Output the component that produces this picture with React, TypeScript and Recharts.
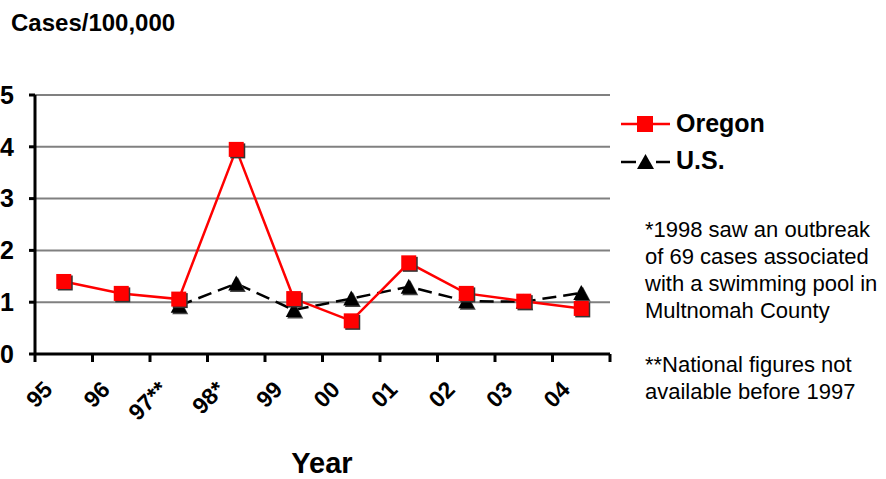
import React from "react";
import { CartesianGrid, Line, LineChart, XAxis, YAxis } from "recharts";

const years = ["95", "96", "97**", "98*", "99", "00", "01", "02", "03", "04"];
const oregon = [1.4, 1.17, 1.06, 3.95, 1.07, 0.64, 1.76, 1.17, 1.02, 0.88];
const us = [null, null, 0.93, 1.36, 0.85, 1.07, 1.3, 1.02, 1.01, 1.18];
const yTicks = [0, 1, 2, 3, 4, 5];

const data = years.map((year, i) => ({ year, oregon: oregon[i], us: us[i] }));

const W = 886;
const H = 479;
const PLOT_LEFT = 35;
const PLOT_RIGHT = 610;
const BAND = (PLOT_RIGHT - PLOT_LEFT) / years.length;
const FONT = "Arial, 'Liberation Sans', sans-serif";

function SquareDot(props: any) {
  const { cx, cy, value } = props;
  if (value == null || cx == null || cy == null) return null;
  return (
    <g>
      <rect x={cx - 6} y={cy - 6} width={15} height={15} fill="#333" />
      <rect x={cx - 7.5} y={cy - 7.5} width={15} height={15} fill="#ff0000" />
    </g>
  );
}

function TriangleDot(props: any) {
  const { cx, cy, value } = props;
  if (value == null || cx == null || cy == null) return null;
  const tri = (dx: number, dy: number) =>
    `${cx + dx},${cy - 8 + dy} ${cx + 8 + dx},${cy + 7 + dy} ${cx - 8 + dx},${cy + 7 + dy}`;
  return (
    <g>
      <polygon points={tri(1.5, 1.5)} fill="#444" />
      <polygon points={tri(0, 0)} fill="#000" />
    </g>
  );
}

function YearTick(props: any) {
  const { x, y, payload, index } = props;
  const left = x - BAND / 2;
  const ax = x - 10;
  const ay = y + 29;
  return (
    <g>
      <line x1={left} y1={y - 8} x2={left} y2={y} stroke="#000" strokeWidth={3} />
      {index === years.length - 1 && (
        <line x1={x + BAND / 2} y1={y - 8} x2={x + BAND / 2} y2={y} stroke="#000" strokeWidth={3} />
      )}
      <text
        x={ax}
        y={ay}
        transform={`rotate(-45, ${ax}, ${ay})`}
        textAnchor="end"
        fontFamily={FONT}
        fontWeight="bold"
        fontSize={23}
        fill="#000"
      >
        {payload.value}
      </text>
    </g>
  );
}

function LegendBox() {
  const row = { display: "flex", alignItems: "center", height: 37 } as const;
  return (
    <div style={{ fontFamily: FONT, fontWeight: "bold", fontSize: 25, color: "#000" }}>
      <div style={row}>
        <svg width={56} height={20}>
          <line x1={1} y1={10} x2={50} y2={10} stroke="#ff0000" strokeWidth={2.5} />
          <rect x={17} y={2} width={16} height={16} fill="#ff0000" />
        </svg>
        <span>Oregon</span>
      </div>
      <div style={row}>
        <svg width={56} height={20}>
          <line x1={1} y1={11} x2={16} y2={11} stroke="#000" strokeWidth={2.5} />
          <line x1={36} y1={11} x2={50} y2={11} stroke="#000" strokeWidth={2.5} />
          <polygon points="25.5,3 34,18 17,18" fill="#000" />
        </svg>
        <span>U.S.</span>
      </div>
    </div>
  );
}

const noteStyle = {
  position: "absolute",
  left: 645,
  fontFamily: FONT,
  fontSize: 22,
  lineHeight: "27px",
  whiteSpace: "nowrap",
} as const;

export default function App() {
  return (
    <div style={{ position: "absolute", left: 0, top: 0, width: W, height: H, background: "#fff", overflow: "hidden" }}>
      <div
        style={{
          position: "absolute",
          left: 11,
          top: 9,
          fontFamily: FONT,
          fontWeight: "bold",
          fontSize: 24,
        }}
      >
        Cases/100,000
      </div>
      <LineChart
        width={W}
        height={H}
        data={data}
        margin={{ top: 95, right: W - PLOT_RIGHT, bottom: 95, left: 10 }}
      >
        <CartesianGrid vertical={false} stroke="#808080" strokeWidth={2} />
        <XAxis
          dataKey="year"
          scale="band"
          height={30}
          axisLine={{ stroke: "#000", strokeWidth: 3 }}
          tickLine={false}
          tick={<YearTick />}
          interval={0}
        />
        <YAxis
          width={25}
          domain={[0, 5]}
          ticks={yTicks}
          axisLine={{ stroke: "#000", strokeWidth: 3 }}
          tickLine={{ stroke: "#000", strokeWidth: 3 }}
          tickSize={6}
          tick={{ fill: "#000", fontSize: 25, fontWeight: "bold", fontFamily: FONT, dx: -13 }}
        />
        <Line
          dataKey="us"
          name="U.S."
          stroke="#000"
          strokeWidth={2.5}
          strokeDasharray="14 7"
          dot={<TriangleDot />}
          activeDot={false}
          isAnimationActive={false}
        />
        <Line
          dataKey="oregon"
          name="Oregon"
          stroke="#ff0000"
          strokeWidth={2.5}
          dot={<SquareDot />}
          activeDot={false}
          isAnimationActive={false}
        />
      </LineChart>
      <div style={{ position: "absolute", left: 620, top: 105 }}>
        <LegendBox />
      </div>
      <div
        style={{
          position: "absolute",
          left: 322,
          top: 450,
          transform: "translateX(-50%)",
          fontFamily: FONT,
          fontWeight: "bold",
          fontSize: 29,
          lineHeight: "26px",
        }}
      >
        Year
      </div>
      <div style={{ ...noteStyle, top: 216 }}>
        *1998 saw an outbreak
        <br />
        of 69 cases associated
        <br />
        with a swimming pool in
        <br />
        Multnomah County
      </div>
      <div style={{ ...noteStyle, top: 351 }}>
        **National figures not
        <br />
        available before 1997
      </div>
    </div>
  );
}
